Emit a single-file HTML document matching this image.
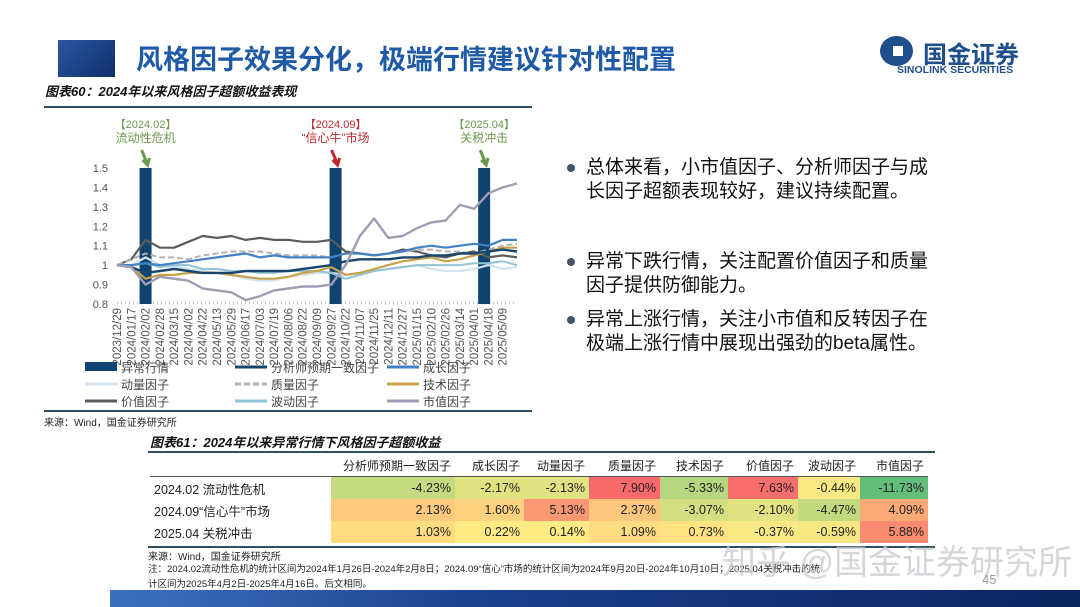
<!DOCTYPE html>
<html><head><meta charset="utf-8">
<style>
body{margin:0;width:1080px;height:607px;overflow:hidden;background:#fff;font-family:"Liberation Sans","Noto Sans CJK SC",sans-serif;position:relative}
.abs{position:absolute;white-space:nowrap}
.bul{font-size:19px;color:#111;line-height:24px}
.dot{position:absolute;width:8px;height:8px;border-radius:50%;background:#44546a}
table{border-collapse:collapse;table-layout:fixed;font-family:"Liberation Sans","Noto Sans CJK SC",sans-serif;font-size:12.5px;color:#222}
td{padding:0 4px;height:22px;text-align:right;overflow:hidden;white-space:nowrap}
</style></head><body>
<div class="abs" style="left:58px;top:40px;width:57px;height:37px;background:linear-gradient(135deg,#2a56a0,#0f2f6e)"></div>
<div class="abs" style="left:136px;top:38px;font-size:27px;font-weight:bold;color:#1f5aa6">风格因子效果分化，极端行情建议针对性配置</div>
<div class="abs" style="left:880px;top:36px;width:33px;height:30px;border-radius:50%;background:#1f4e8c"><div style="position:absolute;left:13px;top:10px;width:10px;height:10px;background:#fff"></div></div>
<div class="abs" style="left:923px;top:35px;font-size:24px;font-weight:bold;color:#1f4e8c">国金证券</div>
<div class="abs" style="left:897px;top:64px;font-size:10.5px;font-weight:bold;color:#1f4e8c">SINOLINK SECURITIES</div>
<div class="abs" style="left:45px;top:81px;font-size:13px;font-weight:bold;font-style:italic;color:#111">图表60：2024年以来风格因子超额收益表现</div>

<svg id="chart" class="abs" style="left:0;top:0" width="1080" height="607"></svg>

<div class="abs" style="left:44px;top:414px;font-size:10px;color:#222">来源：Wind，国金证券研究所</div>

<div class="dot" style="left:567px;top:164px"></div>
<div class="abs bul" style="left:586px;top:156px">总体来看，小市值因子、分析师因子与成<br>长因子超额表现较好，建议持续配置。</div>
<div class="dot" style="left:567px;top:258px"></div>
<div class="abs bul" style="left:586px;top:250px">异常下跌行情，关注配置价值因子和质量<br>因子提供防御能力。</div>
<div class="dot" style="left:567px;top:316px"></div>
<div class="abs bul" style="left:586px;top:308px">异常上涨行情，关注小市值和反转因子在<br>极端上涨行情中展现出强劲的beta属性。</div>

<div class="abs" style="left:150px;top:432px;font-size:13px;font-weight:bold;font-style:italic;color:#111">图表61：2024年以来异常行情下风格因子超额收益</div>
<div class="abs" style="left:148px;top:451px;width:787px;height:2px;background:#2f4f5f"></div>
<table id="tbl" class="abs" style="left:150px;top:454px;width:778px"></table>
<div class="abs" style="left:148px;top:546px;width:787px;height:2px;background:#2f4f5f"></div>
<div class="abs" style="left:148px;top:548px;font-size:10px;color:#222">来源：Wind，国金证券研究所</div>
<div class="abs" style="left:148px;top:562px;font-size:9.5px;color:#222;line-height:15px">注：2024.02流动性危机的统计区间为2024年1月26日-2024年2月8日；2024.09“信心”市场的统计区间为2024年9月20日-2024年10月10日；2025.04关税冲击的统<br>计区间为2025年4月2日-2025年4月16日。后文相同。</div>
<div class="abs" style="left:722px;top:535px;font-size:34px;color:rgba(200,200,205,0.75)">知乎 @国金证券研究所</div>
<div class="abs" style="left:982px;top:572px;font-size:13px;color:#999">45</div>
<div class="abs" style="left:110px;top:590px;width:970px;height:17px;background:linear-gradient(90deg,#3d6fc0,#1a3f8a 40%,#0c2460)"></div>

<script>
const dates=["2023/12/29","2024/01/17","2024/02/02","2024/02/28","2024/03/15","2024/04/02","2024/04/22","2024/05/13","2024/05/29","2024/06/17","2024/07/03","2024/07/19","2024/08/06","2024/08/22","2024/09/09","2024/09/27","2024/10/22","2024/11/07","2024/11/25","2024/12/11","2024/12/27","2025/01/15","2025/02/10","2025/02/26","2025/03/14","2025/04/01","2025/04/18","2025/05/09"];
const yTicks=[0.8,0.9,1,1.1,1.2,1.3,1.4,1.5];
const eventPos=[2,15.3,25.7];
const analyst=[1.0,0.99,0.96,0.97,0.98,0.97,0.96,0.96,0.96,0.97,0.97,0.97,0.97,0.98,0.99,1.00,1.02,1.03,1.03,1.03,1.04,1.04,1.05,1.05,1.06,1.06,1.07,1.08,1.07];
const growth=[1.0,1.0,1.01,1.0,1.01,1.02,1.03,1.04,1.05,1.06,1.04,1.05,1.04,1.04,1.04,1.04,1.06,1.06,1.05,1.06,1.07,1.09,1.10,1.09,1.10,1.11,1.10,1.13,1.13];
const momentum=[1.0,1.0,1.04,1.0,0.99,0.98,0.97,0.96,0.95,0.93,0.92,0.92,0.94,0.95,0.96,0.96,0.95,0.96,0.97,0.98,0.99,1.0,0.98,0.97,0.97,0.98,1.0,0.98,0.99];
const quality=[1.0,1.03,1.06,1.04,1.04,1.03,1.05,1.06,1.07,1.07,1.07,1.06,1.05,1.05,1.05,1.04,1.06,1.06,1.05,1.06,1.07,1.08,1.08,1.07,1.07,1.06,1.08,1.10,1.11];
const technical=[1.0,0.99,0.93,0.95,0.95,0.96,0.96,0.96,0.95,0.94,0.93,0.93,0.94,0.96,0.97,0.99,0.95,0.96,0.98,1.0,1.02,1.03,1.04,1.02,1.03,1.05,1.07,1.09,1.09];
const value=[1.0,1.03,1.13,1.09,1.09,1.12,1.15,1.14,1.15,1.13,1.14,1.13,1.13,1.12,1.12,1.13,1.07,1.06,1.05,1.06,1.08,1.07,1.05,1.04,1.06,1.07,1.04,1.05,1.04];
const volatility=[1.0,1.0,1.01,0.99,1.0,1.0,0.98,0.98,0.97,0.97,0.96,0.96,0.97,0.97,0.97,0.96,0.93,0.95,0.97,0.98,0.99,1.0,1.0,1.0,1.0,1.01,1.01,1.02,1.0];
const marketCap=[1.0,0.99,0.90,0.94,0.93,0.92,0.88,0.87,0.86,0.82,0.84,0.87,0.88,0.89,0.89,0.90,1.00,1.15,1.24,1.14,1.15,1.19,1.22,1.23,1.31,1.29,1.37,1.40,1.42];

const NS="http://www.w3.org/2000/svg";
const svg=document.getElementById('chart');
const X0=117,X1=517,Y0=304,Y1=168;
const xs=i=>X0+(X1-X0)*i/28;
const ys=v=>Y0-(v-0.8)/(1.5-0.8)*(Y0-Y1);
function mk(t,a){const e=document.createElementNS(NS,t);for(const k in a)e.setAttribute(k,a[k]);svg.appendChild(e);return e;}

let r=mk('rect',{x:44,y:106,width:488,height:2,fill:'#2f4f5f'});


r=mk('rect',{x:44,y:410,width:488,height:2,fill:'#2f4f5f'});



yTicks.forEach(v=>{
  const t=mk('text',{x:108,y:ys(v)+4,'text-anchor':'end','font-size':11,fill:'#555'});
  t.textContent=String(v);
  
  
});
const ax=mk('line',{x1:X0,x2:X1,y1:Y0-1,y2:Y0-1,stroke:'#ccc','stroke-width':3,'stroke-dasharray':'1 3'});



dates.forEach((d,i)=>{
  const x=xs(i)+4;
  const t=mk('text',{x:x,y:308,'text-anchor':'end','font-size':11.5,fill:'#555',transform:`rotate(-90 ${x} 308)`});
  t.textContent=d;
  
  
});

eventPos.forEach(p=>{
  const b=mk('rect',{x:xs(p)-6,y:ys(1.5),width:12,height:ys(0.8)-ys(1.5),fill:'#0f4471'});
  
  
});

const series=[
 {d:value,c:'#5c5c5c',w:2.2,n:'value-line'},
 {d:quality,c:'#b3b3b3',w:2,n:'quality-line',dash:'6 3'},
 {d:momentum,c:'#d2e3ef',w:2.2,n:'momentum-line'},
 {d:volatility,c:'#93c4d6',w:2,n:'volatility-line'},
 {d:technical,c:'#c8a248',w:2.2,n:'technical-line'},
 {d:growth,c:'#4282c4',w:2.2,n:'growth-line'},
 {d:analyst,c:'#17466e',w:2.4,n:'analyst-line'},
 {d:marketCap,c:'#a29cb2',w:2.4,n:'marketcap-line'}];
series.forEach(s=>{
  const pts=s.d.map((v,i)=>xs(i).toFixed(1)+','+ys(v).toFixed(1)).join(' ');
  const a={points:pts,fill:'none',stroke:s.c,'stroke-width':s.w,'stroke-linejoin':'round'};
  if(s.dash)a['stroke-dasharray']=s.dash;
  const p=mk('polyline',a);
  
  
});

const ann=[['【2024.02】','流动性危机','#6b9a4c'],['【2024.09】','“信心牛”市场','#c0282d'],['【2025.04】','关税冲击','#6b9a4c']];
ann.forEach((a,k)=>{
  const x=xs(eventPos[k]);
  let t=mk('text',{x:x,y:128,'text-anchor':'middle','font-size':11,fill:a[2]});t.textContent=a[0];
  
  
  t=mk('text',{x:x,y:142,'text-anchor':'middle','font-size':12,fill:a[2]});t.textContent=a[1];
  
  
  const ar=mk('path',{d:`M${x-4} ${150} L${x+1} ${162} M${x-3} ${160} L${x+2} ${165} L${x+4} ${158}`,stroke:a[2],'stroke-width':3,fill:'none'});
  
  
});

const legend=[['异常行情','#0f4471','bar',85,367],['分析师预期一致因子','#17466e','',235,367],['成长因子','#4282c4','',387,367],
['动量因子','#d2e3ef','',85,384],['质量因子','#b3b3b3','dash',235,384],['技术因子','#c8a248','',387,384],
['价值因子','#5c5c5c','',85,401],['波动因子','#93c4d6','',235,401],['市值因子','#a29cb2','',387,401]];
legend.forEach(l=>{
  let s;
  if(l[2]=='bar')s=mk('rect',{x:l[3],y:l[4]-5,width:32,height:9,fill:l[1]});
  else{const a={x1:l[3],x2:l[3]+32,y1:l[4],y2:l[4],stroke:l[1],'stroke-width':3};if(l[2]=='dash')a['stroke-dasharray']='6 3';s=mk('line',a);}
  
  
  const t=mk('text',{x:l[3]+36,y:l[4]+5,'font-size':12,fill:'#444'});t.textContent=l[0];
  
  
});

// table
const factors=["分析师预期一致因子","成长因子","动量因子","质量因子","技术因子","价值因子","波动因子","市值因子"];
const events=["2024.02 流动性危机","2024.09“信心牛”市场","2025.04 关税冲击"];
const row1=[-4.23,-2.17,-2.13,7.90,-5.33,7.63,-0.44,-11.73];
const row2=[2.13,1.60,5.13,2.37,-3.07,-2.10,-4.47,4.09];
const row3=[1.03,0.22,0.14,1.09,0.73,-0.37,-0.59,5.88];
const rows=[row1,row2,row3];
const colW=[181,124,69,65,71,68,70,62,68];
const all=rows.flat().slice().sort((a,b)=>a-b);
const mn=all[0],mx=all[all.length-1],md=(all[11]+all[12])/2;
function lerp(a,b,t){return a.map((v,i)=>Math.round(v+(b[i]-v)*t));}
function col(v){const G=[99,190,123],Y=[255,235,132],R=[248,105,107];
 const c=v<md?lerp(G,Y,(v-mn)/(md-mn)):lerp(Y,R,(v-md)/(mx-md));return `rgb(${c})`;}
const tbl=document.getElementById('tbl');
const cg=document.createElement('colgroup');
colW.forEach(w=>{const c=document.createElement('col');c.style.width=w+'px';cg.appendChild(c);});
tbl.appendChild(cg);
let tr=document.createElement('tr');


let th=document.createElement('td');tr.appendChild(th);
factors.forEach((f,i)=>{const td=document.createElement('td');td.textContent=f;td.style.fontSize='12px';td.style.textAlign='right';
 
 
 tr.appendChild(td);});
tbl.appendChild(tr);
rows.forEach((r,j)=>{
  const tr=document.createElement('tr');
  
  
  if(j==0)tr.style.borderTop='1px solid #555';
  const h=document.createElement('td');h.textContent=events[j];h.style.textAlign='left';
  
  
  tr.appendChild(h);
  r.forEach(v=>{const td=document.createElement('td');td.textContent=v.toFixed(2)+'%';td.style.background=col(v);
   
   
   tr.appendChild(td);});
  tbl.appendChild(tr);
});
</script>
</body></html>
